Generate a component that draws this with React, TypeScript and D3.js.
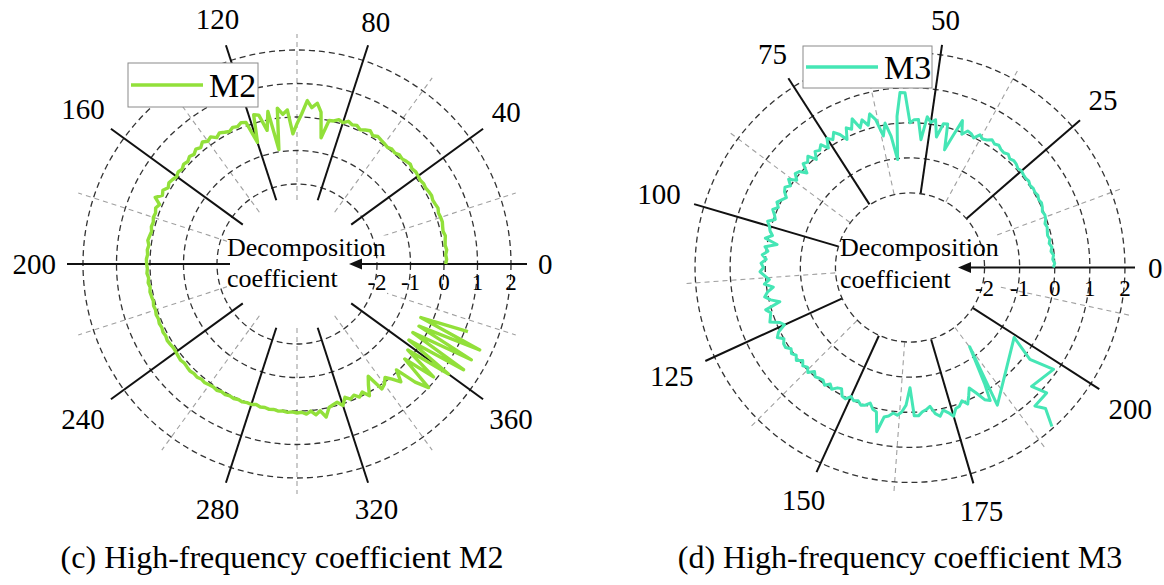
import React, { useRef, useEffect } from 'react';
import * as d3 from 'd3';

// M2 panel: full turn = 400 angle units, samples every 2 units
const m2AngleTicks = [0, 40, 80, 120, 160, 200, 240, 280, 320, 360];
const m2GridAngles = [20, 60, 100, 140, 180, 220, 260, 300, 340, 380];
const m2Values = [
  0.05, 0.08, 0.06, 0.1, 0.07, 0.09, 0.12, 0.08, 0.1, 0.13, 0.12,
  0.1, 0.14, 0.11, 0.09, 0.12, 0.1, 0.07, 0.09, 0.06, 0.08,
  0.1, 0.07, 0.12, 0.09, 0.05, 0.08, 0.03, 0.06, 0.02, 0.05,
  0.08, 0.12, 0.06, 0.15, 0.1, 0.04, 0.12, 0.08, 0.14, 0.05, 0.1, 0.02,
  0.0, -0.55, 0.2, 0.45, 0.3, 0.5, 0.1, -0.2, -0.5, 0.22,
  0.1, 0.3, -0.93, 0.25, -0.3, 0.2, 0.25, -0.57, 0.1, 0.15,
  0.08, 0.12, 0.05, 0.1, 0.16, 0.08, 0.2, 0.14, 0.22, 0.12, 0.18, 0.1, 0.15, 0.08, 0.12, 0.06, 0.1, 0.05,
  0.1, 0.14, 0.08, 0.18, 0.12, 0.29, 0.08, 0.15, 0.1, 0.12,
  0.08, 0.1, 0.06, 0.09, 0.12, 0.07, 0.1, 0.08, 0.11, 0.1,
  0.08, 0.1, 0.06, 0.09, 0.05, 0.08, 0.06, 0.04, 0.07, 0.05,
  0.08, 0.06, 0.09, 0.07, 0.1, 0.08, 0.11, 0.09, 0.07, 0.08,
  0.1, 0.12, 0.09, 0.11, 0.13, 0.1, 0.12, 0.08, 0.1, 0.07,
  0.05, 0.08, 0.04, 0.06, 0.03, 0.05, 0.02, 0.04, 0.01, 0.02,
  -0.02, 0.02, 0.0, 0.03, 0.01, 0.04, 0.02, 0.05, 0.03, 0.06,
  0.04, 0.1, 0.02, 0.15, 0.05, 0.26, 0.0, -0.05, -0.09, 0.05,
  -0.16, -0.05, -0.12, 0.0, -0.1, 0.1, -0.2, -0.42, 0.12,
  0.05, -0.1, 0.07, 0.3, -0.05, 0.6, 1.0, -0.1, 0.9,
  -0.2, 1.2, -0.35, 1.5, -0.37, 1.55, -0.3, 1.64, -0.36, 1.1
];

// M3 panel: full turn = 220 angle units, samples every unit
const m3AngleTicks = [0, 25, 50, 75, 100, 125, 150, 175, 200];
const m3GridAngles = [12.5, 37.5, 62.5, 87.5, 112.5, 137.5, 162.5, 187.5, 212.5];
const m3Values = [
  -0.04, 0.0, -0.05, -0.02, -0.08, -0.04, -0.1, -0.06, -0.1, -0.08, -0.05,
  -0.08, -0.02, 0.0, -0.03, 0.02, 0.05, 0.02, 0.06, 0.03, 0.05,
  0.02, 0.06, 0.04, 0.05, 0.08, 0.05, 0.1, 0.12, 0.08, 0.15,
  0.1, 0.12, 0.18, 0.14, 0.2, 0.12, 0.08, 0.15, -0.01, 0.07,
  0.1, -0.05, 0.32, -0.19, -0.63, 0.1, 0.08, -0.33, 0.15, 0.05,
  0.2, -0.47, 0.1, 0.09, 0.0, 0.86, 0.87, 0.2, -1.03, -0.34,
  0.05, -0.3, 0.2, 0.4, 0.1, 0.3, 0.1, 0.42, 0.15, 0.25,
  -0.06, 0.16, 0.3, 0.13, 0.25, 0.0, 0.2, 0.09, 0.15, -0.05,
  0.18, 0.06, 0.12, -0.14, 0.05, 0.1, -0.05, 0.15, 0.0, 0.11,
  0.05, -0.08, 0.01, 0.1, 0.0, 0.12, 0.02, -0.05, 0.14, 0.05,
  0.0, -0.1, 0.08, -0.28, 0.05, -0.05, 0.1, -0.02, 0.12, 0.05,
  0.15, 0.02, -0.1, 0.05, -0.19, 0.0, 0.1, -0.05, -0.29, 0.16,
  0.05, 0.1, 0.16, -0.1, -0.19, 0.05, 0.15, 0.0, 0.08, 0.09,
  -0.02, 0.05, -0.03, 0.06, -0.08, 0.02, -0.05, 0.05, -0.1, 0.0,
  -0.05, -0.07, 0.02, -0.1, 0.0, -0.12, -0.16, 0.02, 0.05, -0.08,
  0.0, -0.05, 0.04, 0.0, -0.1, 0.05, 0.1, 0.65, 0.2, 0.15,
  0.05, 0.1, 0.0, -0.2, -0.7, 0.1, 0.11, 0.0, -0.05, -0.13,
  0.1, 0.2, 0.05, 0.15, 0.29, 0.1, 0.07, -0.05, 0.1, -0.1,
  -0.3, -0.08, 0.2, 0.3, -0.2
];
// last stretch of M3 folds back on itself, so angles are listed
const m3TailAngles = [187.6, 184.8, 199.3, 197.1, 198.4, 192.9, 194.0, 190.7, 191.8, 190.5];
const m3TailValues = [-1.3, 0.52, -0.55, 0.18, 0.89, 0.72, 1.16, 1.19, 1.45, 1.95];

const radialTicks = [-2, -1, 0, 1, 2];

const FONT = "'Liberation Serif', 'Times New Roman', serif";

type Panel = {
  cx: number; cy: number; period: number;
  rRange: [number, number];
  spoke: [number, number]; grid: [number, number]; arrowTip: number;
  ticks: number[]; gridAngles: number[]; labelR: number;
  tickBaseline: number;
  textBaselines: [number, number];
  points: [number, number][];
  color: string; width: number;
  legend: { x: number; y: number; w: number; h: number; name: string };
  caption: string; captionX: number;
};

function drawPanel(svg: d3.Selection<SVGSVGElement, unknown, null, undefined>, p: Panel) {
  const g = svg.append('g').attr('transform', `translate(${p.cx},${p.cy})`);
  const r = d3.scaleLinear().domain([-2.5, 2.5]).range(p.rRange);
  const ang = d3.scaleLinear().domain([0, p.period]).range([0, 2 * Math.PI]);
  const px = (t: number, rad: number) => rad * Math.cos(ang(t));
  const py = (t: number, rad: number) => -rad * Math.sin(ang(t));

  // light angular grid
  g.selectAll('line.tgrid')
    .data(p.gridAngles)
    .join('line')
    .attr('x1', d => px(d, p.grid[0])).attr('y1', d => py(d, p.grid[0]))
    .attr('x2', d => px(d, p.grid[1])).attr('y2', d => py(d, p.grid[1]))
    .attr('stroke', '#a0a0a0')
    .attr('stroke-width', 1.1)
    .attr('stroke-dasharray', '5,4');

  // white patch behind the centre label
  g.append('rect')
    .attr('x', -70).attr('y', p.textBaselines[0] - 20)
    .attr('width', 160).attr('height', p.textBaselines[1] - p.textBaselines[0] + 28)
    .attr('fill', '#fff');

  // rings
  g.selectAll('circle.ring')
    .data(radialTicks)
    .join('circle')
    .attr('r', d => r(d))
    .attr('fill', 'none')
    .attr('stroke', '#333')
    .attr('stroke-width', 1.3)
    .attr('stroke-dasharray', '6,4');

  // spokes
  g.selectAll('line.spoke')
    .data(p.ticks.filter(t => t !== 0))
    .join('line')
    .attr('x1', d => px(d, p.spoke[0])).attr('y1', d => py(d, p.spoke[0]))
    .attr('x2', d => px(d, p.spoke[1])).attr('y2', d => py(d, p.spoke[1]))
    .attr('stroke', '#111')
    .attr('stroke-width', 2);

  // zero axis with arrow
  g.append('line')
    .attr('x1', p.arrowTip + 10).attr('y1', 0)
    .attr('x2', p.spoke[1]).attr('y2', 0)
    .attr('stroke', '#111').attr('stroke-width', 2.2);
  g.append('path')
    .attr('d', `M${p.arrowTip},0 L${p.arrowTip + 13},-5.5 L${p.arrowTip + 13},5.5 Z`)
    .attr('fill', '#111');

  // radial tick labels along the zero axis
  g.selectAll('text.rtick')
    .data(radialTicks)
    .join('text')
    .attr('x', d => r(d))
    .attr('y', p.tickBaseline)
    .attr('text-anchor', 'middle')
    .attr('font-family', FONT)
    .attr('font-size', 23)
    .text(d => `${d}`);

  // data
  const line = d3.lineRadial<[number, number]>()
    .angle(d => Math.PI / 2 - ang(d[0]))
    .radius(d => r(d[1]));
  g.append('path')
    .datum(p.points)
    .attr('fill', 'none')
    .attr('stroke', p.color)
    .attr('stroke-width', p.width)
    .attr('stroke-linejoin', 'round')
    .attr('d', line);

  // angle labels
  const fs = 29;
  g.selectAll('text.alabel')
    .data(p.ticks)
    .join('text')
    .each(function (d) {
      const a = ang(d);
      const w = 0.5 * fs * `${d}`.length;
      const rc = p.labelR + (w / 2) * Math.abs(Math.cos(a)) + 10 * Math.abs(Math.sin(a));
      d3.select(this)
        .attr('x', rc * Math.cos(a))
        .attr('y', -rc * Math.sin(a));
    })
    .attr('text-anchor', 'middle')
    .attr('dominant-baseline', 'central')
    .attr('font-family', FONT)
    .attr('font-size', fs)
    .text(d => `${d}`);

  // centre label
  const lbl = g.append('text')
    .attr('font-family', FONT)
    .attr('font-size', 26);
  lbl.append('tspan').attr('x', -70).attr('y', p.textBaselines[0]).text('Decomposition');
  lbl.append('tspan').attr('x', -70).attr('y', p.textBaselines[1]).text('coefficient');

  // legend
  const lg = svg.append('g').attr('transform', `translate(${p.legend.x},${p.legend.y})`);
  lg.append('rect')
    .attr('width', p.legend.w).attr('height', p.legend.h)
    .attr('fill', '#fff').attr('stroke', '#8a8a8a').attr('stroke-width', 1);
  lg.append('line')
    .attr('x1', 3).attr('x2', 75)
    .attr('y1', p.legend.h / 2).attr('y2', p.legend.h / 2)
    .attr('stroke', p.color).attr('stroke-width', 3.5);
  lg.append('text')
    .attr('x', 81).attr('y', p.legend.h / 2 + 12)
    .attr('font-family', FONT).attr('font-size', 34)
    .text(p.legend.name);

  // caption
  svg.append('text')
    .attr('x', p.captionX).attr('y', 568)
    .attr('text-anchor', 'middle')
    .attr('font-family', FONT).attr('font-size', 32)
    .text(p.caption);
}

export default function App() {
  const svgRef = useRef<SVGSVGElement>(null);

  useEffect(() => {
    if (!svgRef.current) return;
    const svg = d3.select(svgRef.current);
    svg.selectAll('*').remove();

    const m2Points: [number, number][] = m2Values.map((v, i) => [i * 2, v]);
    const m3Points: [number, number][] = m3Values
      .map((v, i) => [i, v] as [number, number])
      .concat(m3TailAngles.map((t, i) => [t, m3TailValues[i]] as [number, number]));

    drawPanel(svg, {
      cx: 297, cy: 264, period: 400,
      rRange: [63.25, 230.75],
      spoke: [67, 230], grid: [64, 230], arrowTip: 52,
      ticks: m2AngleTicks, gridAngles: m2GridAngles, labelR: 241,
      tickBaseline: 26,
      textBaselines: [-8.5, 23],
      points: m2Points,
      color: '#92e03a', width: 3.4,
      legend: { x: 128, y: 63, w: 130, h: 44, name: 'M2' },
      caption: '(c) High-frequency coefficient M2', captionX: 282
    });

    drawPanel(svg, {
      cx: 910, cy: 267.5, period: 220,
      rRange: [57, 232.5],
      spoke: [75, 225], grid: [75, 225], arrowTip: 48,
      ticks: m3AngleTicks, gridAngles: m3GridAngles, labelR: 238,
      tickBaseline: 28.5,
      textBaselines: [-11.5, 20.5],
      points: m3Points,
      color: '#45e6b5', width: 3,
      legend: { x: 803, y: 46, w: 129, h: 42, name: 'M3' },
      caption: '(d) High-frequency coefficient M3', captionX: 900
    });
  }, []);

  return (
    <svg
      ref={svgRef}
      width={1164}
      height={585}
      style={{ position: 'absolute', left: 0, top: 0, background: '#fff' }}
    />
  );
}
